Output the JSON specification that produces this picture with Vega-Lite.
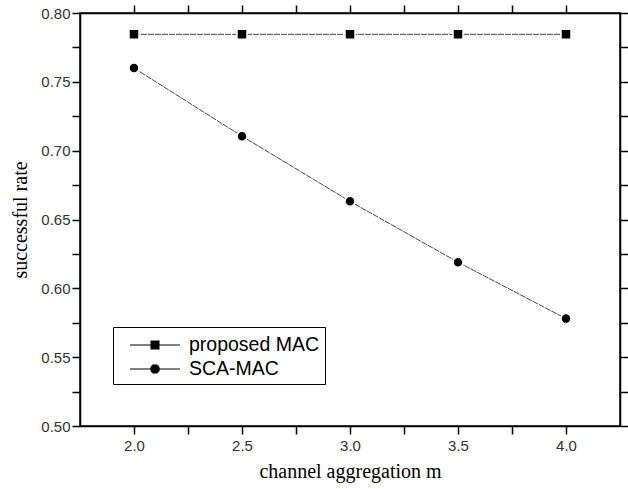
{
  "$schema": "https://vega.github.io/schema/vega-lite/v6.json",
  "width": 540,
  "height": 413,
  "autosize": "none",
  "padding": {"left": 80, "top": 13, "right": 8, "bottom": 63},
  "background": "white",
  "config": {
    "view": {"stroke": "black", "strokeWidth": 1.5},
    "axis": {
      "grid": false,
      "domainColor": "black",
      "domainWidth": 1.5,
      "tickColor": "black",
      "tickWidth": 1.5,
      "tickSize": 8,
      "labelFont": "Liberation Sans",
      "labelFontSize": 15,
      "labelColor": "#333",
      "titleFont": "Liberation Serif",
      "titleFontSize": 20,
      "titleFontWeight": "normal",
      "titleColor": "black"
    }
  },
  "data": {
    "values": [
      {"m": 2.0, "rate": 0.7845, "series": "proposed MAC"},
      {"m": 2.5, "rate": 0.7845, "series": "proposed MAC"},
      {"m": 3.0, "rate": 0.7845, "series": "proposed MAC"},
      {"m": 3.5, "rate": 0.7845, "series": "proposed MAC"},
      {"m": 4.0, "rate": 0.7845, "series": "proposed MAC"},
      {"m": 2.0, "rate": 0.760, "series": "SCA-MAC"},
      {"m": 2.5, "rate": 0.7105, "series": "SCA-MAC"},
      {"m": 3.0, "rate": 0.6632, "series": "SCA-MAC"},
      {"m": 3.5, "rate": 0.619, "series": "SCA-MAC"},
      {"m": 4.0, "rate": 0.578, "series": "SCA-MAC"}
    ]
  },
  "layer": [
    {
      "mark": {"type": "line", "color": "#444", "strokeWidth": 1, "strokeDash": [6, 1]},
      "encoding": {
        "x": {
          "field": "m", "type": "quantitative",
          "scale": {"domain": [1.75, 4.25], "nice": false, "zero": false},
          "axis": {
            "title": "channel aggregation m",
            "values": [2, 2.25, 2.5, 2.75, 3, 3.25, 3.5, 3.75, 4],
            "format": ".1f",
            "labelExpr": "datum.value % 0.5 === 0 ? datum.label : ''",
            "labelPadding": 4,
            "titlePadding": 8,
            "encode": {"ticks": {"update": {"y2": {"signal": "datum.value % 0.5 === 0 ? -8 : -4"}}}}
          }
        },
        "y": {
          "field": "rate", "type": "quantitative",
          "scale": {"domain": [0.5, 0.8], "nice": false, "zero": false},
          "axis": {
            "title": "successful rate",
            "values": [0.5, 0.525, 0.55, 0.575, 0.6, 0.625, 0.65, 0.675, 0.7, 0.725, 0.75, 0.775, 0.8],
            "format": ".2f",
            "labelExpr": "round(datum.value * 1000) % 50 === 0 ? datum.label : ''",
            "labelPadding": 2,
            "titlePadding": 10,
            "encode": {"ticks": {"update": {"x2": {"signal": "round(datum.value * 1000) % 50 === 0 ? 8 : 4"}}}}
          }
        },
        "detail": {"field": "series"}
      }
    },
    {
      "mark": {"type": "point", "filled": true, "fill": "black", "stroke": "white", "strokeWidth": 1.5, "opacity": 1, "size": 100},
      "encoding": {
        "x": {
          "field": "m", "type": "quantitative",
          "axis": {
            "orient": "top", "title": null, "labels": false,
            "values": [2, 2.25, 2.5, 2.75, 3, 3.25, 3.5, 3.75, 4],
            "encode": {"ticks": {"update": {"y2": {"signal": "datum.value % 0.5 === 0 ? 8 : 4"}}}}
          }
        },
        "y": {
          "field": "rate", "type": "quantitative",
          "axis": {
            "orient": "right", "title": null, "labels": false,
            "values": [0.5, 0.525, 0.55, 0.575, 0.6, 0.625, 0.65, 0.675, 0.7, 0.725, 0.75, 0.775, 0.8],
            "encode": {"ticks": {"update": {"x2": {"signal": "round(datum.value * 1000) % 50 === 0 ? -8 : -4"}}}}
          }
        },
        "shape": {
          "field": "series", "type": "nominal",
          "scale": {"domain": ["proposed MAC", "SCA-MAC"], "range": ["square", "circle"]},
          "legend": null
        }
      }
    },
    {
      "mark": {"type": "point", "filled": false, "size": 0, "color": "black", "strokeWidth": 1},
      "encoding": {
        "x": {"field": "m", "type": "quantitative", "axis": null},
        "y": {"field": "rate", "type": "quantitative", "axis": null},
        "shape": {
          "field": "series", "type": "nominal",
          "scale": {
            "domain": ["proposed MAC", "SCA-MAC"],
            "range": [
              "M-0.08,0H4.08M1.625,-0.333H2.375M1.625,-0.25H2.375M1.625,-0.167H2.375M1.625,-0.083H2.375M1.625,0.083H2.375M1.625,0.167H2.375M1.625,0.25H2.375M1.625,0.333H2.375",
              "M-0.08,0H4.08M1.779,-0.333H2.221M1.688,-0.25H2.312M1.636,-0.167H2.364M1.609,-0.083H2.391M1.609,0.083H2.391M1.636,0.167H2.364M1.688,0.25H2.312M1.779,0.333H2.221"
            ]
          },
          "legend": {
            "title": null,
            "orient": "none",
            "legendX": 33,
            "legendY": 314,
            "strokeColor": "black",
            "fillColor": "white",
            "padding": 5,
            "rowPadding": 1,
            "labelFont": "Liberation Sans",
            "labelFontSize": 19.5,
            "labelColor": "black",
            "labelOffset": 45,
            "labelExpr": "datum.label + '\u2003'",
            "symbolSize": 576,
            "symbolStrokeWidth": 1.2,
            "symbolStrokeColor": "black",
            "symbolOpacity": 1
          }
        }
      }
    }
  ],
  "resolve": {"axis": {"x": "independent", "y": "independent"}, "scale": {"shape": "independent"}}
}
